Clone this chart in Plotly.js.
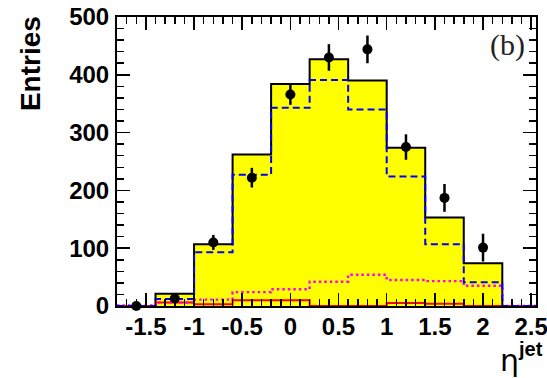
<!DOCTYPE html>
<html>
<head>
<meta charset="utf-8">
<script src="https://cdn.plot.ly/plotly-3.0.1.min.js"></script>
<style>html,body{margin:0;padding:0;background:#fff;}#chart{width:547px;height:378px;}</style>
</head>
<body>
<div id="chart"></div>
<script>
// Bin centres (eta^jet), bin width 0.4
var binCenters = [-1.6, -1.2, -0.8, -0.4, 0.0, 0.4, 0.8, 1.2, 1.6, 2.0, 2.4];
var binWidth = 0.4;
// Total MC (yellow filled histogram)
var totalMC = [0, 21, 107, 262, 384, 427, 390, 274, 153, 74, 0];
// Blue dashed component
var blueDashed = [0, 12, 93, 227, 343, 391, 340, 224, 107, 41, 0];
// Magenta dotted component
var magentaDotted = [1, 6, 11, 24, 29, 42, 54, 45, 43, 35, 0];
// Red solid component
var redSolid = [0, 6, 3, 10, 10, 0, 0, 5, 4, 0, 0];
// Data points
var dataX = [-1.6, -1.2, -0.8, -0.4, 0.0, 0.4, 0.8, 1.2, 1.6, 2.0];
var dataY = [0, 13, 110, 222, 366, 430, 444, 275, 187, 101];
var dataErr = [0, 6, 13, 17, 18, 23, 24, 22, 24, 24];
var xTickVals = [-1.5, -1, -0.5, 0, 0.5, 1, 1.5, 2, 2.5];
var xTickText = ['-1.5', '-1', '-0.5', '0', '0.5', '1', '1.5', '2', '2.5'];
var yTickVals = [0, 100, 200, 300, 400, 500];

function stepX() {
  var xs = binCenters.map(function (c) { return c - binWidth / 2; });
  xs.push(binCenters[binCenters.length - 1] + binWidth / 2);
  return xs;
}
function stepY(v) { var y = v.slice(); y.push(v[v.length - 1]); return y; }

var edges = stepX();
var traces = [
  {x: edges, y: stepY(totalMC), type: 'scatter', mode: 'lines', line: {shape: 'hv', color: '#000', width: 2},
   fill: 'tozeroy', fillcolor: '#ffff00', hoverinfo: 'skip'},
  {x: edges, y: stepY(redSolid), type: 'scatter', mode: 'lines', line: {shape: 'hv', color: '#ff0000', width: 2}},
  {x: edges, y: stepY(magentaDotted), type: 'scatter', mode: 'lines', line: {shape: 'hv', color: '#ff00ff', width: 2.4, dash: '2.5px,3px'}},
  {x: edges, y: stepY(blueDashed), type: 'scatter', mode: 'lines', line: {shape: 'hv', color: '#0000ff', width: 2, dash: '7px,4px'}},
  {x: dataX, y: dataY, type: 'scatter', mode: 'markers', cliponaxis: false,
   marker: {color: '#000', size: 10},
   error_y: {type: 'data', array: dataErr, visible: true, width: 0, thickness: 2.5, color: '#000'}}
];

var axFont = {family: 'Liberation Sans, Arial, sans-serif', size: 24, color: '#000', weight: 'bold'};
var layout = {
  width: 547, height: 378,
  margin: {l: 117, r: 11, t: 17, b: 72},
  paper_bgcolor: '#fff', plot_bgcolor: '#fff',
  showlegend: false,
  xaxis: {
    range: [-1.8, 2.55], tickvals: xTickVals, ticktext: xTickText,
    ticks: 'inside', ticklen: 13, tickwidth: 1.5, tickcolor: '#000',
    minor: {tickvals: [-1.7,-1.6,-1.4,-1.3,-1.2,-1.1,-0.9,-0.8,-0.7,-0.6,-0.4,-0.3,-0.2,-0.1,0.1,0.2,0.3,0.4,0.6,0.7,0.8,0.9,1.1,1.2,1.3,1.4,1.6,1.7,1.8,1.9,2.1,2.2,2.3,2.4],
            ticks: 'inside', ticklen: 7, tickwidth: 1.5, tickcolor: '#000'},
    showline: true, linecolor: '#000', linewidth: 2, mirror: 'allticks',
    showgrid: false, zeroline: false, layer: 'above traces',
    tickfont: axFont, ticklabelstandoff: -2, ticklabeloverflow: 'allow'
  },
  yaxis: {
    range: [0, 500], tickvals: yTickVals,
    ticks: 'inside', ticklen: 13, tickwidth: 1.5, tickcolor: '#000',
    minor: {dtick: 20, ticks: 'inside', ticklen: 7, tickwidth: 1.5, tickcolor: '#000'},
    showline: true, linecolor: '#000', linewidth: 2, mirror: 'allticks',
    showgrid: false, zeroline: false, layer: 'above traces',
    tickfont: axFont, ticklabelstandoff: 1
  },
  annotations: [
    {text: 'Entries', textangle: -90, xref: 'paper', yref: 'paper', x: -0.2076, y: 0.837,
     xanchor: 'center', yanchor: 'middle', showarrow: false,
     font: {family: 'Liberation Sans, Arial, sans-serif', size: 28, color: '#000', weight: 'bold'}},
    {text: 'η', xref: 'paper', yref: 'paper', x: (509 - 117) / 419, y: (306 - 360) / 289,
     xanchor: 'center', yanchor: 'middle', showarrow: false,
     font: {family: 'DejaVu Sans, sans-serif', size: 30, color: '#000'}},
    {text: 'jet', xref: 'paper', yref: 'paper', x: (530 - 117) / 419, y: (306 - 349) / 289,
     xanchor: 'center', yanchor: 'middle', showarrow: false,
     font: {family: 'Liberation Sans, Arial, sans-serif', size: 20, color: '#000', weight: 'bold'}},
    {text: '(b)', xref: 'paper', yref: 'paper', x: (507 - 117) / 419, y: (306 - 45) / 289,
     xanchor: 'center', yanchor: 'middle', showarrow: false,
     font: {family: 'Liberation Serif, Times New Roman, serif', size: 30, color: '#222'}}
  ]
};
Plotly.newPlot('chart', traces, layout, {displayModeBar: false, staticPlot: true});
</script>
</body>
</html>
